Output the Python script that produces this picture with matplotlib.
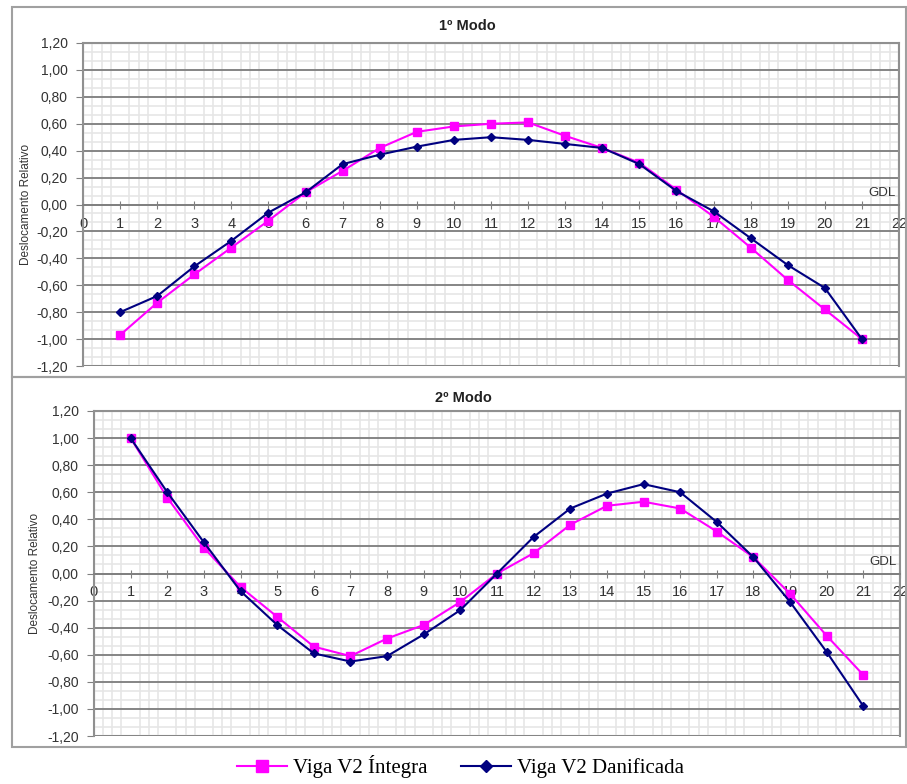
import numpy as np
import matplotlib
matplotlib.use("Agg")
import matplotlib.pyplot as plt
from matplotlib.ticker import MultipleLocator, FuncFormatter
from matplotlib.patches import Rectangle
from matplotlib.transforms import offset_copy

# graus de liberdade
gdl = list(range(1, 22))
xticks = list(range(0, 23))

# 1º modo
modo1_integra = [-0.97, -0.73, -0.52, -0.32, -0.12, 0.09, 0.25, 0.42, 0.54, 0.58, 0.60,
                 0.61, 0.51, 0.42, 0.31, 0.11, -0.09, -0.32, -0.56, -0.78, -1.00]
modo1_danificada = [-0.80, -0.68, -0.46, -0.27, -0.06, 0.09, 0.30, 0.37, 0.43, 0.48, 0.50,
                    0.48, 0.45, 0.42, 0.30, 0.10, -0.05, -0.25, -0.45, -0.62, -1.00]

# 2º modo
modo2_integra = [1.00, 0.56, 0.19, -0.10, -0.32, -0.54, -0.61, -0.48, -0.38, -0.21, 0.00,
                 0.15, 0.36, 0.50, 0.53, 0.48, 0.31, 0.12, -0.15, -0.46, -0.75]
modo2_danificada = [1.00, 0.60, 0.23, -0.13, -0.38, -0.59, -0.65, -0.61, -0.45, -0.27, 0.00,
                    0.27, 0.48, 0.59, 0.66, 0.60, 0.38, 0.12, -0.21, -0.58, -0.98]

titulos = ["1º Modo", "2º Modo"]
legenda = ["Viga V2 Íntegra", "Viga V2 Danificada"]

W, H = 907, 784
fig = plt.figure(figsize=(W / 100, H / 100), dpi=100)

sans = "Liberation Sans"
cinza_txt = "#333333"


def px_rect(x0, y0, x1, y1):
    return [x0 / W, 1 - y1 / H, (x1 - x0) / W, (y1 - y0) / H]


def desenha(ax, y_int, y_dan, ylab_x):
    ax.set_xlim(0, 22)
    ax.set_ylim(-1.2, 1.2)
    ax.set_xticks(xticks)
    ax.yaxis.set_major_locator(MultipleLocator(0.2))
    ax.xaxis.set_minor_locator(MultipleLocator(0.25))
    ax.yaxis.set_minor_locator(MultipleLocator(0.2 / 3))
    ax.yaxis.set_major_formatter(FuncFormatter(lambda v, p: f"{v:.2f}".replace(".", ",").replace("-0,00", "0,00")))

    ax.grid(which="minor", color="#e6e6e6", lw=1.2)
    ax.grid(which="major", axis="y", color="#858585", lw=1.4)
    ax.set_axisbelow(True)

    for s in ["top", "right", "left"]:
        ax.spines[s].set_color("#909090")
        ax.spines[s].set_linewidth(1.5)
    ax.spines["bottom"].set_position(("data", 0))
    ax.spines["bottom"].set_color("#808080")
    ax.spines["bottom"].set_linewidth(1.4)
    ax.add_patch(Rectangle((0, 0), 1, 1, transform=ax.transAxes, fill=False,
                           ec="#909090", lw=1.5, zorder=0.5))

    ax.tick_params(which="minor", length=0)
    ax.tick_params(axis="x", which="major", direction="inout", length=6, color="#808080",
                   labelbottom=False)
    ax.tick_params(axis="y", which="major", direction="out", length=5, color="#808080",
                   labelsize=10, labelcolor=cinza_txt, pad=6)
    for lab in ax.get_yticklabels():
        lab.set_fontfamily(sans)

    # rótulos do eixo x (GDL) por cima da grade
    trans = offset_copy(ax.transData, fig=fig, x=0, y=-19, units="dots")
    for t in xticks:
        ax.text(t, 0, str(t), transform=trans, ha="center", va="center", fontsize=10.5,
                family=sans, color=cinza_txt, zorder=2.5, clip_on=False)

    ax.plot(gdl, y_int, color="#ff00ff", lw=1.5, marker="s", ms=5.5, zorder=3)
    ax.plot(gdl, y_dan, color="#000080", lw=1.5, marker="D", ms=4.5, zorder=4)

    ax.set_ylabel("Deslocamento Relativo", fontsize=8.5, family=sans, color=cinza_txt)
    ax.yaxis.set_label_coords(ylab_x, 0.5)
    ax.text(21.9, 0.04, "GDL", ha="right", va="bottom", fontsize=9.5, family=sans, color=cinza_txt)


ax1 = fig.add_axes(px_rect(83, 43, 899, 366))
desenha(ax1, modo1_integra, modo1_danificada, -0.062)
ax2 = fig.add_axes(px_rect(94, 411, 900, 736))
desenha(ax2, modo2_integra, modo2_danificada, -0.066)

fig.text(467 / W, 1 - 26 / H, titulos[0], ha="center", va="center", fontsize=10.5,
         fontweight="bold", family=sans, color="#222222")
fig.text(463 / W, 1 - 398 / H, titulos[1], ha="center", va="center", fontsize=10.5,
         fontweight="bold", family=sans, color="#222222")

# molduras dos dois painéis
for (x0, y0, x1, y1) in [(12, 7, 906, 377), (12, 377, 906, 747)]:
    fig.patches.append(Rectangle((x0 / W, 1 - y1 / H), (x1 - x0) / W, (y1 - y0) / H,
                                 transform=fig.transFigure, fill=False, ec="#a0a0a0", lw=1.5))

h1, = ax1.plot([], [], color="#ff00ff", lw=1.5, marker="s", ms=8)
h2, = ax1.plot([], [], color="#000080", lw=1.5, marker="D", ms=6)
fig.legend([h1, h2], legenda, loc="center", bbox_to_anchor=(0.508, 1 - 767 / H), ncol=2,
           frameon=False, prop={"family": "Liberation Serif", "size": 15},
           handlelength=2.4, handletextpad=0.3, columnspacing=1.6)

fig.savefig("out.png", dpi=100)
